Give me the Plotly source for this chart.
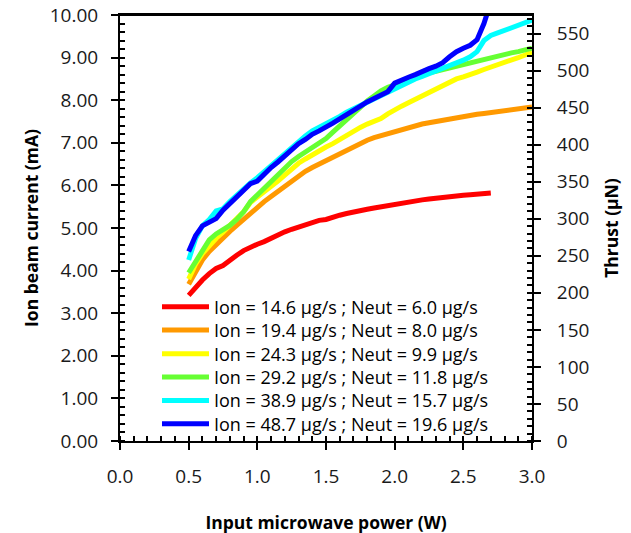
import plotly.graph_objects as go

# ---- data ----
power = [0.50, 0.55, 0.60, 0.65, 0.70, 0.75, 0.80, 0.85, 0.90, 0.95,
         1.00, 1.05, 1.10, 1.15, 1.20, 1.25, 1.30, 1.35, 1.40, 1.45,
         1.50, 1.55, 1.60, 1.65, 1.70, 1.75, 1.80, 1.85, 1.90, 1.95,
         2.00, 2.05, 2.10, 2.15, 2.20, 2.25, 2.30, 2.35, 2.40, 2.45,
         2.50, 2.55, 2.60, 2.65, 2.70, 2.75, 2.80, 2.85, 2.90, 2.95, 3.00]

ion_14_6 = [3.42, 3.62, 3.78, 3.93, 4.05, 4.12, 4.25, 4.36, 4.47, 4.56,
            4.62, 4.68, 4.76, 4.85, 4.91, 4.97, 5.03, 5.06, 5.13, 5.18,
            5.20, 5.26, 5.30, 5.34, 5.38, 5.41, 5.44, 5.47, 5.50, 5.53,
            5.55, 5.58, 5.60, 5.63, 5.66, 5.68, 5.70, 5.73, 5.74, 5.76,
            5.77, 5.78, 5.79, 5.80, 5.82]

ion_19_4 = [3.68, 3.98, 4.25, 4.45, 4.62, 4.78, 4.92, 5.06, 5.20, 5.35,
            5.50, 5.62, 5.74, 5.86, 5.98, 6.10, 6.22, 6.33, 6.42, 6.50,
            6.58, 6.68, 6.76, 6.84, 6.93, 7.00, 7.06, 7.12, 7.17, 7.22,
            7.27, 7.31, 7.35, 7.40, 7.44, 7.47, 7.50, 7.52, 7.56, 7.60,
            7.62, 7.65, 7.67, 7.69, 7.71, 7.73, 7.76, 7.78, 7.80, 7.82, 7.84]

ion_24_3 = [3.80, 4.15, 4.40, 4.60, 4.76, 4.90, 5.05, 5.20, 5.38, 5.60,
            5.72, 5.84, 5.98, 6.10, 6.24, 6.38, 6.52, 6.62, 6.72, 6.80,
            6.90, 6.98, 7.08, 7.16, 7.26, 7.36, 7.44, 7.50, 7.57, 7.68,
            7.78, 7.86, 7.94, 8.02, 8.12, 8.18, 8.26, 8.34, 8.42, 8.50,
            8.55, 8.62, 8.66, 8.72, 8.77, 8.82, 8.87, 8.93, 9.00, 9.06, 9.13]

ion_29_2 = [3.95, 4.22, 4.50, 4.72, 4.86, 4.96, 5.06, 5.20, 5.38, 5.62,
            5.78, 5.92, 6.08, 6.22, 6.40, 6.56, 6.68, 6.78, 6.88, 6.98,
            7.10, 7.25, 7.40, 7.55, 7.70, 7.86, 7.98, 8.10, 8.22, 8.30,
            8.36, 8.42, 8.48, 8.54, 8.60, 8.64, 8.68, 8.72, 8.77, 8.82,
            8.86, 8.90, 8.94, 8.98, 9.02, 9.05, 9.08, 9.11, 9.14, 9.18, 9.22]

ion_38_9 = [4.25, 4.75, 5.05, 5.20, 5.40, 5.45, 5.62, 5.78, 5.94, 6.06,
            6.18, 6.32, 6.48, 6.62, 6.76, 6.90, 7.04, 7.16, 7.28, 7.36,
            7.44, 7.54, 7.62, 7.72, 7.80, 7.86, 7.94, 8.02, 8.10, 8.18,
            8.26, 8.34, 8.42, 8.50, 8.56, 8.62, 8.68, 8.74, 8.80, 8.86,
            8.94, 9.02, 9.14, 9.40, 9.52, 9.58, 9.64, 9.70, 9.74, 9.80, 9.88]

ion_48_7 = [4.45, 4.82, 5.05, 5.15, 5.22, 5.42, 5.58, 5.72, 5.90, 6.04,
            6.10, 6.28, 6.42, 6.55, 6.70, 6.84, 6.98, 7.08, 7.20, 7.28,
            7.36, 7.46, 7.56, 7.66, 7.78, 7.88, 7.96, 8.04, 8.12, 8.20,
            8.40, 8.48, 8.54, 8.60, 8.68, 8.74, 8.80, 8.88, 9.02, 9.14,
            9.22, 9.29, 9.42, 9.80, 10.30]

series_names = [
    "Ion = 14.6 µg/s ; Neut = 6.0 µg/s",
    "Ion = 19.4 µg/s ; Neut = 8.0 µg/s",
    "Ion = 24.3 µg/s ; Neut = 9.9 µg/s",
    "Ion = 29.2 µg/s ; Neut = 11.8 µg/s",
    "Ion = 38.9 µg/s ; Neut = 15.7 µg/s",
    "Ion = 48.7 µg/s ; Neut = 19.6 µg/s",
]
series_values = [ion_14_6, ion_19_4, ion_24_3, ion_29_2, ion_38_9, ion_48_7]
series_colors = ["#FF0000", "#FF9900", "#FFFF00", "#66FF33", "#00FFFF", "#0000FF"]

current_range = [0, 10]
thrust_range = [0, 575]   # thrust axis scaled to current axis

FONT = "Open Sans"

# one legend box per entry so the row spacing can follow the reference
legend_ids = ["legend", "legend2", "legend3", "legend4", "legend5", "legend6"]
legend_rows_y = [0.3146, 0.2596, 0.2042, 0.1495, 0.0946, 0.0399]

fig = go.Figure()
for name, vals, col, lg in zip(series_names, series_values, series_colors, legend_ids):
    fig.add_trace(go.Scatter(
        x=power[:len(vals)], y=vals, name=name, mode="lines",
        line=dict(color=col, width=5), yaxis="y", legend=lg,
    ))

# carrier for the secondary (thrust) axis
fig.add_trace(go.Scatter(x=[None], y=[None], yaxis="y2", showlegend=False,
                         hoverinfo="skip", mode="lines"))

axis_common = dict(
    showgrid=False, zeroline=False, showline=True, linecolor="black",
    linewidth=2, ticks="outside", ticklen=7, tickwidth=2, tickcolor="black",
    tickfont=dict(family=FONT, size=19, color="#1a1a1a"),
    automargin=False, ticklabeloverflow="allow",
)

legend_style = dict(
    x=0.0898, xanchor="left", yanchor="middle",
    bgcolor="rgba(0,0,0,0)", borderwidth=0,
    font=dict(family=FONT, size=18, color="black"),
    itemwidth=47,
)

layout_legends = {lg: dict(y=yy, **legend_style) for lg, yy in zip(legend_ids, legend_rows_y)}

fig.update_layout(
    width=631, height=533,
    margin=dict(l=112, r=107, t=7, b=100),
    paper_bgcolor="white", plot_bgcolor="white",
    font=dict(family=FONT, color="black"),
    xaxis=dict(
        range=[0, 3], dtick=0.5, tick0=0, tickformat=".1f",
        mirror=True, ticklabelstandoff=10,
        minor=dict(ticks="inside", dtick=0.1, ticklen=5, tickwidth=2, tickcolor="black"),
        title=dict(text="<b>Input microwave power (W)</b>", standoff=29,
                   font=dict(family=FONT, size=17.5, color="black")),
        **axis_common,
    ),
    yaxis=dict(
        range=current_range, dtick=1, tick0=0, tickformat=".2f",
        ticklabelstandoff=9,
        minor=dict(ticks="inside", dtick=0.2, ticklen=5, tickwidth=2, tickcolor="black"),
        title=dict(text="<b>Ion beam current (mA)</b>", standoff=7,
                   font=dict(family=FONT, size=17.5, color="black")),
        **axis_common,
    ),
    yaxis2=dict(
        range=thrust_range, dtick=50, tick0=0, overlaying="y", side="right",
        anchor="x", ticklabelstandoff=12,
        minor=dict(ticks="inside", dtick=10, ticklen=5, tickwidth=2, tickcolor="black"),
        title=dict(text="<b>Thrust (µN)</b>", standoff=17,
                   font=dict(family=FONT, size=17.5, color="black")),
        **axis_common,
    ),
    shapes=[dict(type="line", xref="paper", yref="paper", x0=0, x1=1, y0=1, y1=1,
                 line=dict(color="black", width=2), layer="above")],
    showlegend=True,
    **layout_legends,
)

fig.write_html("out.html")
